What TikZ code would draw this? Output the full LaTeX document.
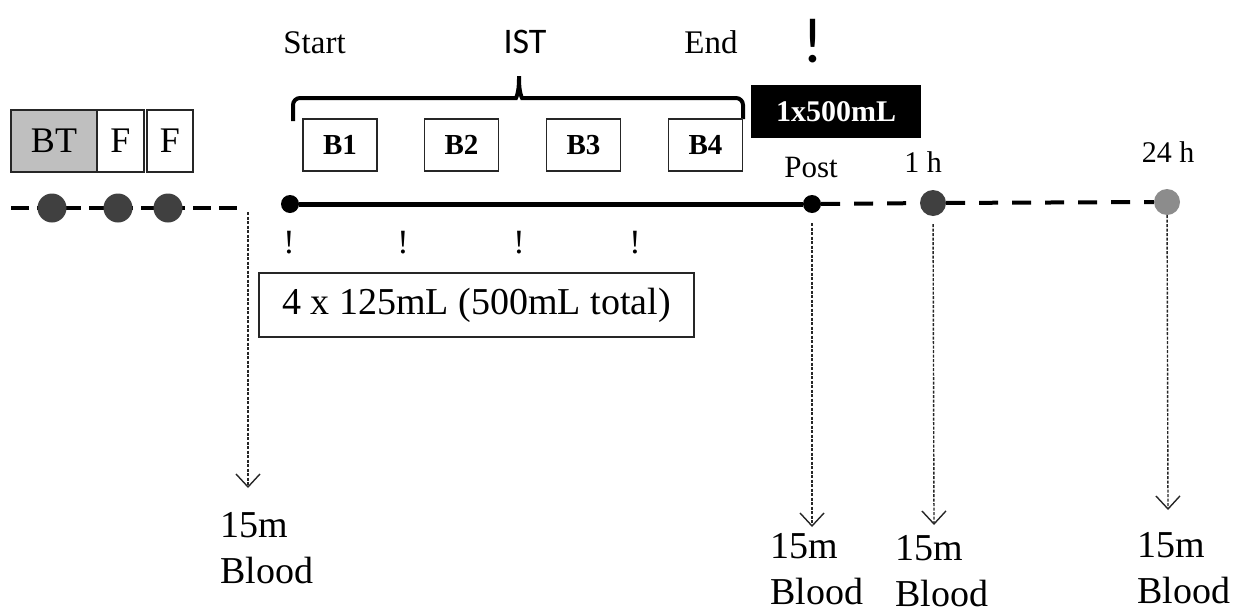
\documentclass[tikz,border=0pt]{standalone}
\usepackage{fontspec}
\setmainfont{Liberation Serif}
\newfontfamily\calfont{Carlito}
\usetikzlibrary{arrows.meta}

\begin{document}
\begin{tikzpicture}[x=1pt,y=-1pt,
  txt/.style={inner sep=0, anchor=base, font=\fontsize{33}{36}\selectfont},
  hour/.style={inner sep=0, anchor=base, font=\fontsize{30}{33}\selectfont},
  blk/.style={draw=black!85, line width=1.3pt, inner sep=0, outer sep=0},
  bx/.style={blk, minimum width=74pt, minimum height=52pt, font=\bfseries\fontsize{29}{32}\selectfont},
  fambox/.style={blk, minimum height=62pt, font=\fontsize{36}{40}\selectfont},
  dot/.style={circle, fill, inner sep=0, minimum size=18pt},
  visit/.style={circle, fill=#1, inner sep=0, minimum size=26pt},
  bang/.style={inner sep=0, anchor=base, font=\fontsize{34}{36}\selectfont},
  sample/.style={draw=black!85, line width=1.4pt, dash pattern=on 3pt off 1.5pt,
    -{Straight Barb[length=13pt,width=24pt,line width=1.4pt]}},
  blood/.style={inner sep=0, align=left, anchor=north west, font=\fontsize{38}{46}\selectfont},
]
\useasboundingbox (0,0) rectangle (1246,613);

% familiarisation trials
\node[fambox, fill=black!25, minimum width=86pt] (bt) at (54,141) {BT};
\node[fambox, minimum width=47pt] (f1) at (120.5,141) {F};
\node[fambox, minimum width=46pt] (f2) at (170,141) {F};

\coordinate (l0) at (11,208);
\coordinate (l1) at (240,208);
\draw[line width=4pt, dash pattern=on 18pt off 8pt] (l0) -- (l1);
\foreach \x/\n in {52/fam1,118/fam2,168/fam3}
  \node[visit=black!75, minimum size=29pt] (\n) at (\x,208) {};

% IST labels and brace
\node[txt] (lstart) at (314.5,53) {Start};
\node[inner sep=0, anchor=base, font=\calfont\fontsize{36}{40}\selectfont] (ist) at (525,53) {IST};
\node[txt] (lend) at (711,53) {End};
\coordinate (br0) at (293,121);
\coordinate (br1) at (743,119);
\draw[line width=4pt, rounded corners=7pt]
  (br0) -- (293,98) -- (509,98) .. controls (516,98) and (519,93) .. (519,72)
  .. controls (519,93) and (522,98) .. (529,98) -- (743,98) -- (br1);

% bouts
\foreach \i/\x in {1/340,2/461.5,3/583.5,4/705.5}
  \node[bx] (b\i) at (\x,145) {B\i};

% bolus
\node[fill=black, text=white, minimum width=170pt, minimum height=53pt, inner sep=0,
  font=\bfseries\fontsize{30}{32}\selectfont] (bolus) at (836,111.5) {1x500mL};
\node[inner sep=0, anchor=base, font=\calfont\fontsize{64}{70}\selectfont] (alert) at (813,62) {!};

% timeline
\node[dot] (start) at (290,204) {};
\node[dot] (post) at (812,204) {};
\node[visit=black!75] (oneh) at (933,203) {};
\node[visit=black!45] (tfh) at (1167,202) {};
\draw[line width=5pt] (start) -- (post);
\draw[line width=4pt, dash pattern=on 19pt off 14pt] (post) -- (oneh);
\draw[line width=4pt, dash pattern=on 19pt off 14pt] (oneh) -- (tfh);

\node[hour, font=\fontsize{31}{34}\selectfont] (lpost) at (811,177) {Post};
\node[hour] (l1h) at (923,172) {1 h};
\node[hour] (l24h) at (1168,162) {24 h};

% drinks
\foreach \x/\n in {289/d1,403/d2,519/d3,635/d4}
  \node[bang] (\n) at (\x,253) {!};
\node[blk, minimum width=435pt, minimum height=64pt, font=\fontsize{38}{42}\selectfont]
  (dose) at (476.5,305) {4 x 125mL (500mL total)};

% blood samples
\coordinate (s0) at (248,212);
\coordinate (s0e) at (248,488);
\coordinate (s1e) at (812,527);
\coordinate (s2e) at (934,525);
\coordinate (s3e) at (1168,510);
\draw[sample] (s0) -- (s0e);
\draw[sample, shorten <=10pt] (post) -- (s1e);
\draw[sample, shorten <=8pt] (oneh) -- (s2e);
\draw[sample] (tfh) -- (s3e);

\node[blood] (bl0) at (220,512) {15m\\Blood};
\node[blood] (bl1) at (770,533) {15m\\Blood};
\node[blood] (bl2) at (895,535) {15m\\Blood};
\node[blood] (bl3) at (1137,532) {15m\\Blood};
\end{tikzpicture}
\end{document}
